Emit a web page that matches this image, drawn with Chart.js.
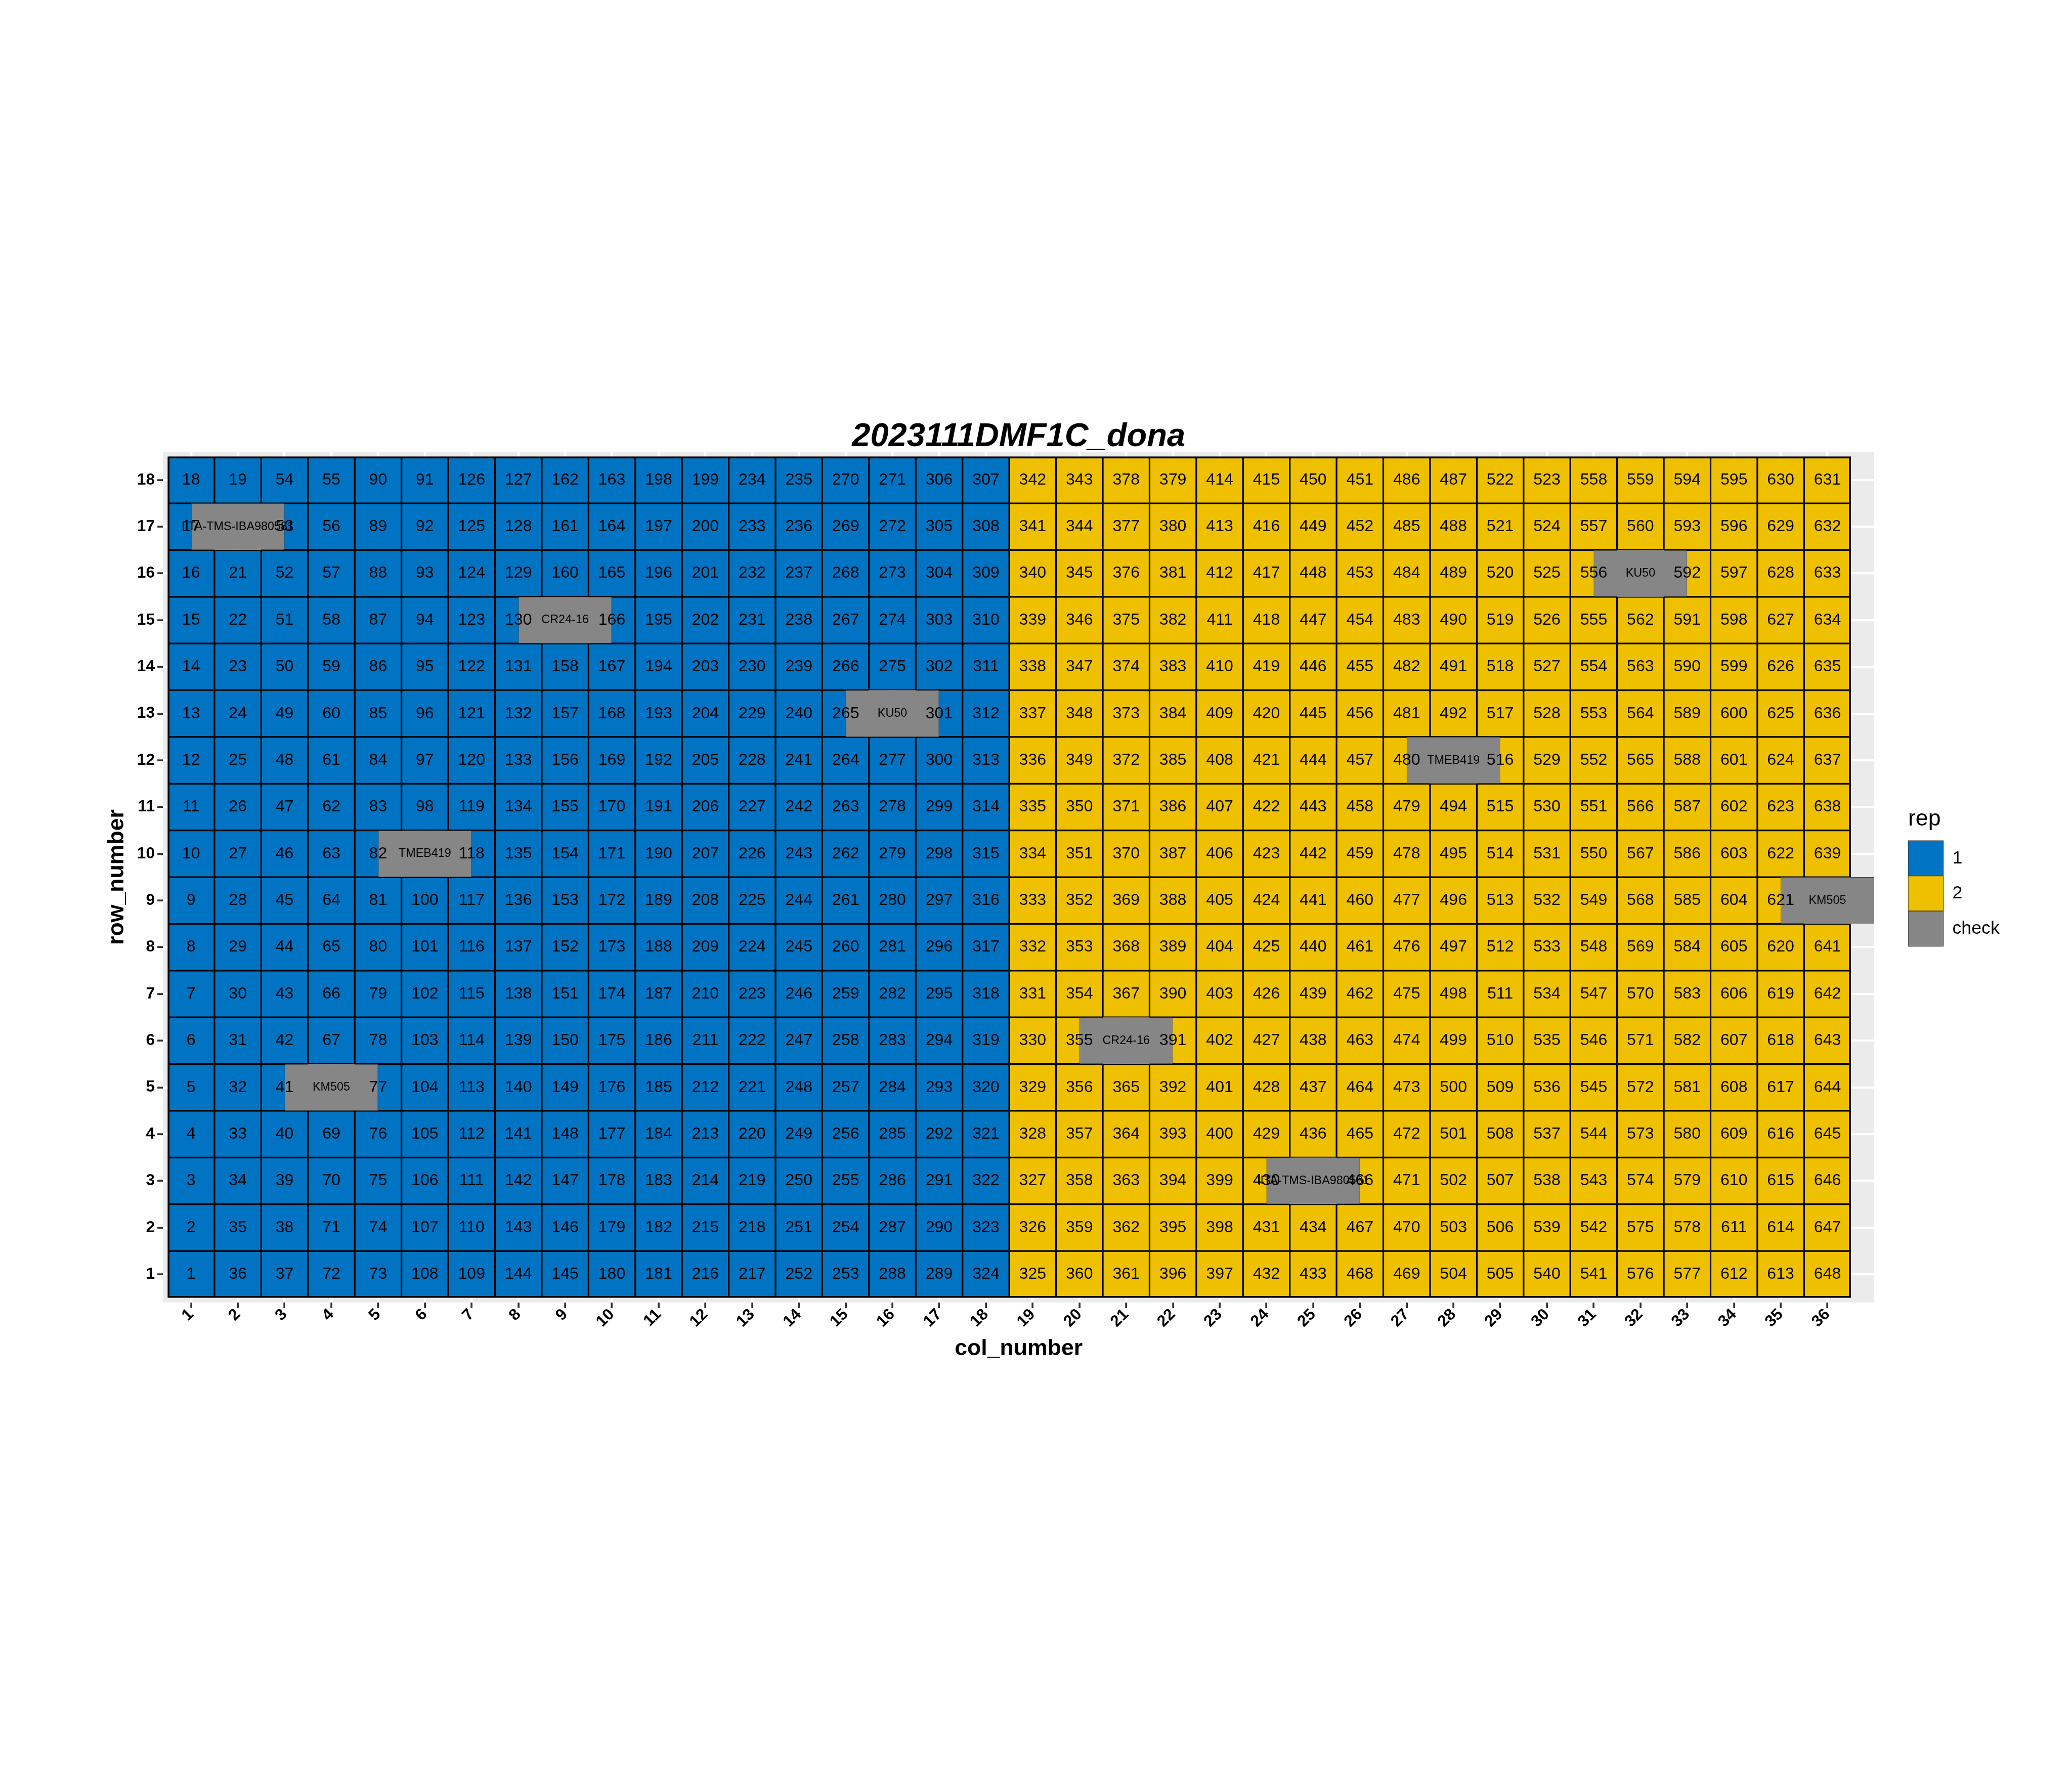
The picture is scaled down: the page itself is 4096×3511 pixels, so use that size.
<!DOCTYPE html>
<html>
<head>
<meta charset="utf-8">
<style>
html,body{margin:0;padding:0;background:#ffffff;}
#wrap{width:4096px;height:3511px;}
canvas{display:block;}
</style>
<script src="https://cdn.jsdelivr.net/npm/chart.js@4.4.1/dist/chart.umd.min.js"></script>
</head>
<body>
<div id="wrap"><canvas id="c" width="4096" height="3511"></canvas></div>
<script>
// ---------------- data ----------------
const chartTitle = '2023111DMF1C_dona';
const xTitle = 'col_number';
const yTitle = 'row_number';
const legendTitle = 'rep';

const colLabels = [1,2,3,4,5,6,7,8,9,10,11,12,13,14,15,16,17,18,19,20,21,22,23,24,25,26,27,28,29,30,31,32,33,34,35,36];
const rowLabels = [18,17,16,15,14,13,12,11,10,9,8,7,6,5,4,3,2,1];

// rep of each column (1..36)
const colRep = [1,1,1,1,1,1,1,1,1,1,1,1,1,1,1,1,1,1,2,2,2,2,2,2,2,2,2,2,2,2,2,2,2,2,2,2];

// plot numbers, one row per rowLabels entry (top row 18 first), null = check plot
const plotGrid = [
  [18,19,54,55,90,91,126,127,162,163,198,199,234,235,270,271,306,307,342,343,378,379,414,415,450,451,486,487,522,523,558,559,594,595,630,631],
  [17,null,53,56,89,92,125,128,161,164,197,200,233,236,269,272,305,308,341,344,377,380,413,416,449,452,485,488,521,524,557,560,593,596,629,632],
  [16,21,52,57,88,93,124,129,160,165,196,201,232,237,268,273,304,309,340,345,376,381,412,417,448,453,484,489,520,525,556,null,592,597,628,633],
  [15,22,51,58,87,94,123,130,null,166,195,202,231,238,267,274,303,310,339,346,375,382,411,418,447,454,483,490,519,526,555,562,591,598,627,634],
  [14,23,50,59,86,95,122,131,158,167,194,203,230,239,266,275,302,311,338,347,374,383,410,419,446,455,482,491,518,527,554,563,590,599,626,635],
  [13,24,49,60,85,96,121,132,157,168,193,204,229,240,265,null,301,312,337,348,373,384,409,420,445,456,481,492,517,528,553,564,589,600,625,636],
  [12,25,48,61,84,97,120,133,156,169,192,205,228,241,264,277,300,313,336,349,372,385,408,421,444,457,480,null,516,529,552,565,588,601,624,637],
  [11,26,47,62,83,98,119,134,155,170,191,206,227,242,263,278,299,314,335,350,371,386,407,422,443,458,479,494,515,530,551,566,587,602,623,638],
  [10,27,46,63,82,null,118,135,154,171,190,207,226,243,262,279,298,315,334,351,370,387,406,423,442,459,478,495,514,531,550,567,586,603,622,639],
  [9,28,45,64,81,100,117,136,153,172,189,208,225,244,261,280,297,316,333,352,369,388,405,424,441,460,477,496,513,532,549,568,585,604,621,null],
  [8,29,44,65,80,101,116,137,152,173,188,209,224,245,260,281,296,317,332,353,368,389,404,425,440,461,476,497,512,533,548,569,584,605,620,641],
  [7,30,43,66,79,102,115,138,151,174,187,210,223,246,259,282,295,318,331,354,367,390,403,426,439,462,475,498,511,534,547,570,583,606,619,642],
  [6,31,42,67,78,103,114,139,150,175,186,211,222,247,258,283,294,319,330,355,null,391,402,427,438,463,474,499,510,535,546,571,582,607,618,643],
  [5,32,41,null,77,104,113,140,149,176,185,212,221,248,257,284,293,320,329,356,365,392,401,428,437,464,473,500,509,536,545,572,581,608,617,644],
  [4,33,40,69,76,105,112,141,148,177,184,213,220,249,256,285,292,321,328,357,364,393,400,429,436,465,472,501,508,537,544,573,580,609,616,645],
  [3,34,39,70,75,106,111,142,147,178,183,214,219,250,255,286,291,322,327,358,363,394,399,430,null,466,471,502,507,538,543,574,579,610,615,646],
  [2,35,38,71,74,107,110,143,146,179,182,215,218,251,254,287,290,323,326,359,362,395,398,431,434,467,470,503,506,539,542,575,578,611,614,647],
  [1,36,37,72,73,108,109,144,145,180,181,216,217,252,253,288,289,324,325,360,361,396,397,432,433,468,469,504,505,540,541,576,577,612,613,648]
];

// check plots
const checkNames = ['IITA-TMS-IBA980581','CR24-16','KU50','TMEB419','KM505','KU50','TMEB419','KM505','CR24-16','IITA-TMS-IBA980581'];
const checkCols  = [2, 9, 16, 6, 4, 32, 28, 36, 21, 25];
const checkRows  = [17, 15, 13, 10, 5, 16, 12, 9, 6, 3];

const repNames  = ['1', '2', 'check'];
const repColors = ['#0073C2', '#EFC000', '#868686'];

// ---------------- styling (scaled 0.975) ----------------
const S = 0.975;
const FONT = '"Liberation Sans", Arial, Helvetica, sans-serif';
const cellFont = 33 * S;
const checkFont = 24 * S;
const tickFont = 32.5 * S;
const axisTitleFont = 45.8 * S;
const titleFont = 66.7 * S;
const legendFont = 36.7 * S;
const legendTitleFont = 45.8 * S;
const lineW = 2 * S;          // half of the black tile outline
const gridW = 4.4 * S;

Chart.defaults.font.family = FONT;
Chart.defaults.color = '#000000';

// ---------------- build datasets from the arrays ----------------
const repData = [[], []];
rowLabels.forEach((r, ri) => {
  colLabels.forEach((c, ci) => {
    const n = plotGrid[ri][ci];
    if (n === null) return;
    repData[colRep[ci] - 1].push({x: c, y: [r - 0.5, r + 0.5], n: String(n)});
  });
});
const checkData = checkNames.map((name, i) => ({x: checkCols[i], y: [checkRows[i] - 0.5, checkRows[i] + 0.5], n: name}));

const firstCol = colLabels[0], lastCol = colLabels[colLabels.length - 1];
const topRow = rowLabels[0], bottomRow = rowLabels[rowLabels.length - 1];
function cellBorder(c) {
  const d = c.raw;
  if (!d) return lineW;
  const r = (d.y[0] + d.y[1]) / 2;
  return {
    left: d.x === firstCol ? 2 * lineW : lineW,
    right: d.x === lastCol ? 2 * lineW : lineW,
    top: r === topRow ? 2 * lineW : lineW,
    bottom: r === bottomRow ? 2 * lineW : lineW
  };
}

const cellDataset = (idx) => ({
  label: repNames[idx],
  data: repData[idx],
  backgroundColor: repColors[idx],
  borderColor: '#000000',
  borderWidth: cellBorder,
  borderSkipped: false,
  grouped: false,
  barPercentage: 1,
  categoryPercentage: 1,
  order: 2,
  textFont: cellFont + 'px ' + FONT
});

const datasets = [
  cellDataset(0),
  cellDataset(1),
  {
    label: repNames[2],
    data: checkData,
    backgroundColor: repColors[2],
    borderColor: '#3d3d3d',
    borderWidth: 1,
    borderSkipped: false,
    grouped: false,
    barPercentage: 2,
    categoryPercentage: 1,
    order: 1,
    textFont: checkFont + 'px ' + FONT
  }
];

// ---------------- plugins ----------------
const panelBg = {
  id: 'panelBg',
  beforeDraw(chart) {
    const {ctx, chartArea: a} = chart;
    ctx.save();
    ctx.fillStyle = '#ffffff';
    ctx.fillRect(0, 0, chart.width, chart.height);
    ctx.fillStyle = '#EBEBEB';
    ctx.fillRect(a.left, a.top, a.right - a.left, a.bottom - a.top);
    ctx.restore();
  }
};

const cellText = {
  id: 'cellText',
  afterDatasetsDraw(chart) {
    const ctx = chart.ctx;
    ctx.save();
    ctx.textAlign = 'center';
    ctx.textBaseline = 'middle';
    ctx.fillStyle = '#000000';
    chart.data.datasets.forEach((ds, di) => {
      const meta = chart.getDatasetMeta(di);
      ctx.font = ds.textFont;
      meta.data.forEach((el, i) => {
        const p = el.getCenterPoint();
        ctx.fillText(ds.data[i].n, p.x, p.y);
      });
    });
    ctx.restore();
  }
};

// ---------------- layout targets ----------------
const legendBoxW = 71.3 * S;
// natural width of the legend box (box + gap + widest label + 10)
const mctx = document.createElement('canvas').getContext('2d');
mctx.font = legendFont + 'px ' + FONT;
const widestLabel = Math.max(...repNames.map(t => mctx.measureText(t).width));
const legendWidth = legendBoxW + legendFont / 2 + widestLabel + 10;
const spacerWidth = 67;        // gap between panel and legend
const padRight = 4096 - 3705 - spacerWidth - legendWidth;

const chart = new Chart(document.getElementById('c'), {
  type: 'bar',
  data: { datasets },
  plugins: [panelBg, cellText],
  options: {
    responsive: false,
    maintainAspectRatio: false,
    devicePixelRatio: 1,
    animation: false,
    events: [],
    layout: { padding: { top: 834.85, left: 0, right: padRight, bottom: 800 } },
    scales: {
      x: {
        type: 'linear',
        min: 0.4,
        max: 37,
        offset: false,
        afterBuildTicks: (s) => { s.ticks = colLabels.map(v => ({value: v})); },
        afterFit: (s) => { s.height = 136.3; },
        ticks: {
          autoSkip: false,
          minRotation: 45,
          maxRotation: 45,
          padding: -3.6,
          color: '#000000',
          font: { size: tickFont, weight: 'bold', lineHeight: 1 },
          callback: (v) => String(v)
        },
        grid: {
          offset: false,
          color: '#ffffff',
          lineWidth: gridW,
          drawTicks: true,
          tickLength: 11.2,
          tickColor: '#333333',
          tickWidth: 3.8 * S
        },
        border: { display: false },
        title: {
          display: true,
          text: xTitle,
          color: '#000000',
          font: { size: axisTitleFont, weight: 'bold' },
          padding: { top: 0, bottom: 17.5 }
        }
      },
      y: {
        type: 'linear',
        min: 0.4,
        max: 18.6,
        afterBuildTicks: (s) => { s.ticks = rowLabels.map(v => ({value: v})); },
        afterFit: (s) => { s.width = 322.3; },
        ticks: {
          padding: 5,
          color: '#000000',
          font: { size: tickFont, weight: 'bold' },
          callback: (v) => String(v)
        },
        grid: {
          color: '#ffffff',
          lineWidth: gridW,
          drawTicks: true,
          tickLength: 11.2,
          tickColor: '#333333',
          tickWidth: 3.8 * S
        },
        border: { display: false },
        title: {
          display: true,
          text: yTitle,
          color: '#000000',
          font: { size: axisTitleFont, weight: 'bold' },
          padding: { top: 204.4, bottom: 0 }
        }
      },
      spacer: {
        type: 'linear',
        position: 'right',
        display: true,
        afterFit: (s) => { s.width = spacerWidth; },
        grid: { display: false, drawTicks: false },
        ticks: { display: false },
        border: { display: false }
      }
    },
    plugins: {
      tooltip: { enabled: false },
      title: {
        display: true,
        text: chartTitle,
        position: 'top',
        align: 'center',
        fullSize: false,
        color: '#000000',
        font: { size: titleFont, weight: 'bold', style: 'italic', lineHeight: 0.9 },
        padding: 0
      },
      legend: {
        display: true,
        position: 'right',
        align: 'center',
        fullSize: false,
        title: {
          display: true,
          text: legendTitle,
          position: 'start',
          color: '#000000',
          font: { size: legendTitleFont },
          padding: { top: 0, bottom: 11 }
        },
        labels: {
          boxWidth: legendBoxW,
          boxHeight: legendBoxW,
          padding: 0,
          color: '#000000',
          font: { size: legendFont },
          generateLabels: () => repNames.map((t, i) => ({
            text: t,
            fillStyle: repColors[i],
            strokeStyle: '#333333',
            lineWidth: 1.2,
            hidden: false,
            datasetIndex: i
          }))
        }
      }
    }
  }
});
</script>
</body>
</html>
